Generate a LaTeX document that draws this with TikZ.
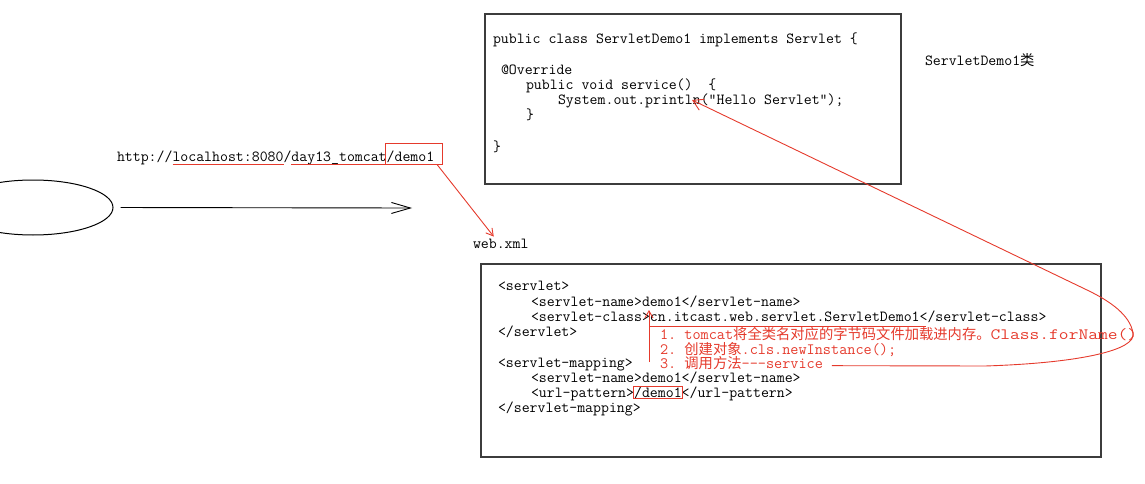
\documentclass[tikz,border=0pt]{standalone}
\usepackage{fontspec}
\newfontfamily\codefont{Latin Modern Mono}
\newfontfamily\cjk{Noto Sans CJK SC}
\usetikzlibrary{arrows.meta,positioning,fit,shapes.geometric}
\definecolor{inkred}{HTML}{E53A2C}
\definecolor{boxgray}{HTML}{3C3C3C}
\newcommand{\zh}[1]{{\cjk\fontsize{14.3}{14.3}\selectfont #1}}

\begin{document}
\begin{tikzpicture}[
    x=1pt, y=-1pt,
    code/.style={font=\codefont\fontsize{15.4}{15.4}\selectfont, inner sep=0pt, outer sep=0pt, anchor=base west},
    note/.style={code, font=\codefont\fontsize{15.8}{15.8}\selectfont, text=inkred},
    frame/.style={draw=boxgray, line width=1.3pt, outer sep=0pt, inner sep=0pt, anchor=north west},
    redline/.style={draw=inkred, line width=0.9pt},
    redbox/.style={redline, inner sep=0pt, outer sep=0pt},
    redarrow/.style={redline, -{Straight Barb[length=7pt,width=8pt]}},
    flow/.style={-{Straight Barb[length=19pt,width=11pt]}, line width=0.9pt}
  ]
    \useasboundingbox (0,0) rectangle (1145,484);

    % Client and request
    \begin{scope}
      \clip (0,0) rectangle (1145,484);
      \node[draw, ellipse, line width=1pt, minimum width=160pt, minimum height=55pt] (client) at (33,207.5) {};
    \end{scope}
    \coordinate (server) at (412,208);
    \draw[flow, shorten <=7pt] (client.east) -- (server);

    % URL
    \node[code] (u1) at (117,161.5) {http://};
    \node[code, base right=0pt of u1] (host) {localhost:8080};
    \node[code, base right=0pt of host] (u2) {/};
    \node[code, base right=0pt of u2] (app) {day13\_tomcat};
    \node[code, base right=0pt of app] (res) {/demo1};
    \draw[redline] ([yshift=-3pt]host.base west) -- ([yshift=-3pt]host.base east);
    \draw[redline] ([yshift=-3pt]app.base west) -- ([yshift=-3pt]app.base east);
    \coordinate (res1) at ([xshift=-1pt,yshift=7pt]res.north west);
    \coordinate (res2) at ([xshift=8pt,yshift=-2pt]res.south east);
    \node[redbox, fit=(res1)(res2)] (resbox) {};

    \node[code] (web) at (473,248) {web.xml};
    \draw[redarrow] ([xshift=-5pt]resbox.south east) -- ([xshift=-7pt,yshift=2pt]web.north);

    % Servlet class
    \node[frame, minimum width=416pt, minimum height=170pt] (classbox) at (485,14) {};
    \node[code] (t1) at (493,44) {public class ServletDemo1 implements Servlet \{};
    \node[code] (t2) at (501,75) {@Override};
    \node[code] (t3) at (526,90) {public void service()\ \ \{};
    \node[code] (t4) at (558,105) {System.out.println(“Hello Servlet”);};
    \node[code] (t5) at (526,120) {\}};
    \node[code] (t6) at (493,151) {\}};
    \node[code] (cname) at (925,66) {ServletDemo1\zh{类}};

    % web.xml
    \node[frame, minimum width=620pt, minimum height=193pt] (xmlbox) at (481,264) {};
    \node[code] (b1) at (498,290) {<servlet>};
    \node[code] (b2) at (531,306) {<servlet-name>demo1</servlet-name>};
    \node[code] (b3) at (531,321) {<servlet-class>};
    \node[code, base right=0pt of b3] (cls) {cn.itcast.web.servlet.ServletDemo1};
    \node[code, base right=0pt of cls] (b3e) {</servlet-class>};
    \node[code] (b4) at (498,336) {</servlet>};
    \node[code] (b5) at (498,367) {<servlet-mapping>};
    \node[code] (b6) at (531,382.5) {<servlet-name>demo1</servlet-name>};
    \node[code] (b7) at (531,397.5) {<url-pattern>};
    \node[code, base right=0pt of b7] (pat) {/demo1};
    \node[code, base right=0pt of pat] (b7e) {</url-pattern>};
    \node[code] (b8) at (498,412.5) {</servlet-mapping>};
    \node[redbox, fit=(pat), inner xsep=1pt] (patbox) {};

    % Notes
    \draw[redline] ([yshift=-5pt]cls.base west) -- ([xshift=6pt,yshift=-5pt]cls.base east);
    \draw[redarrow] ([xshift=-1pt,yshift=-41pt]cls.base west) -- ([xshift=-1pt,yshift=11pt]cls.base west);
    \node[note] (n1) at (660,339.5) {1.\ tomcat\zh{将全类名对应的字节码文件加载进内存。}\scalebox{1.2}[1]{Class.forName()}};
    \node[note] (n2) at (660,354) {2.\ \zh{创建对象}.cls.newInstance();};
    \node[note] (n3) at (660,368.5) {3.\ \smash{\zh{调用方法}}-{}-{}-service};
    \coordinate (tip) at ([xshift=134pt,yshift=5pt]t4.base west);
    \draw[redline, -{Straight Barb[length=10pt,width=12pt]}] ([xshift=9pt,yshift=-2pt]n3.east) -- (985,366)
      .. controls (1080,363) and (1137,350) .. (1133,333)
      .. controls (1130,315) and (1110,301) .. (1087,290) -- (tip);
  \end{tikzpicture}
\end{document}
